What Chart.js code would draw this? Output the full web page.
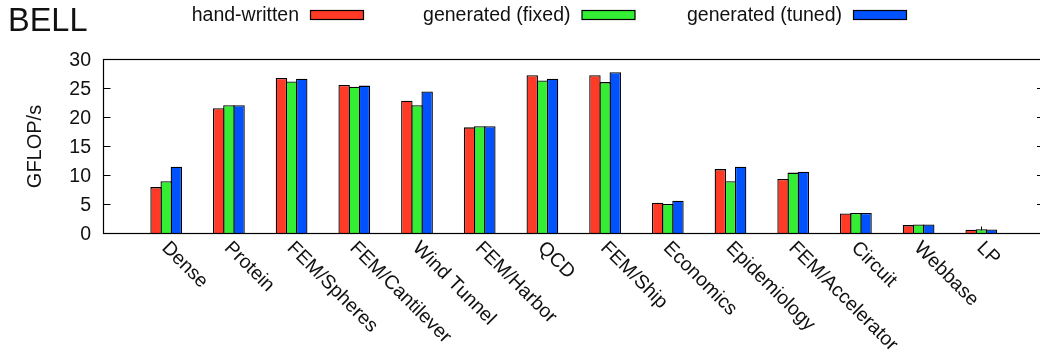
<!DOCTYPE html>
<html>
<head>
<meta charset="utf-8">
<title>BELL</title>
<script src="https://cdn.jsdelivr.net/npm/chart.js@4/dist/chart.umd.min.js"></script>
<style>
  html, body { margin: 0; padding: 0; background: #fff; overflow: hidden; }
  #wrap { position: relative; width: 1050px; height: 353px; }
</style>
</head>
<body>
<div id="wrap"><canvas id="chart" width="1050" height="353"></canvas></div>
<script>
// Matrix categories and measured throughput (GFLOP/s) for each kernel variant
const categories = ['Dense', 'Protein', 'FEM/Spheres', 'FEM/Cantilever', 'Wind Tunnel', 'FEM/Harbor',
  'QCD', 'FEM/Ship', 'Economics', 'Epidemiology', 'FEM/Accelerator', 'Circuit', 'Webbase', 'LP'];
const seriesNames = ['hand-written', 'generated (fixed)', 'generated (tuned)'];
const handWritten    = [8.0, 21.6, 26.8, 25.6, 22.9, 18.3, 27.3, 27.3, 5.3, 11.1, 9.4, 3.45, 1.45, 0.65];
const generatedFixed = [9.0, 22.1, 26.2, 25.3, 22.1, 18.5, 26.4, 26.1, 5.1, 9.0, 10.5, 3.55, 1.55, 0.75];
const generatedTuned = [11.5, 22.1, 26.7, 25.5, 24.5, 18.5, 26.7, 27.8, 5.65, 11.5, 10.65, 3.55, 1.55, 0.7];
const yTicks = [0, 5, 10, 15, 20, 25, 30];
const chartTitle = 'BELL';
const yTitle = 'GFLOP/s';

const colors = ['#ff3a26', '#33ee33', '#0052ff'];
const FONT = '"Liberation Sans", Arial, Helvetica, sans-serif';

// one empty slot on each side of the category axis
const labels = [''].concat(categories, ['']);
const pad = arr => [null].concat(arr, [null]);

const datasets = [handWritten, generatedFixed, generatedTuned].map((vals, i) => ({
  label: seriesNames[i],
  data: pad(vals),
  backgroundColor: colors[i],
  borderColor: '#000',
  borderWidth: 1.3,
  borderSkipped: 'start',
  inflateAmount: 0,
  categoryPercentage: 0.486,
  barPercentage: 1.125
}));

// axes frame, inward ticks and all text
const framePlugin = {
  id: 'frame',
  beforeDatasetsDraw(chart) {
    const { ctx, chartArea: a, scales: { x, y } } = chart;
    ctx.save();
    ctx.strokeStyle = '#000';
    ctx.lineWidth = 1;
    ctx.beginPath();
    categories.forEach((c, i) => {
      const px = Math.round(x.getPixelForValue(i + 1)) + 0.5;
      ctx.moveTo(px, a.bottom);
      ctx.lineTo(px, a.bottom - 7);
    });
    yTicks.forEach(v => {
      const py = y.getPixelForValue(v);
      ctx.moveTo(a.left, py); ctx.lineTo(a.left + 7, py);
      ctx.moveTo(a.right, py); ctx.lineTo(a.right - 7, py);
    });
    ctx.stroke();
    ctx.restore();
  },
  afterDatasetsDraw(chart) {
    const { ctx, chartArea: a, scales: { x, y } } = chart;
    ctx.save();
    // border box
    ctx.strokeStyle = '#000';
    ctx.lineWidth = 1.2;
    ctx.strokeRect(a.left, a.top, a.right - a.left, a.bottom - a.top);

    ctx.fillStyle = '#111';
    // y tick labels
    ctx.font = '19.5px ' + FONT;
    ctx.textAlign = 'right';
    ctx.textBaseline = 'middle';
    yTicks.forEach(v => ctx.fillText(String(v), a.left - 12.5, y.getPixelForValue(v) + 1));

    // y axis title
    ctx.save();
    ctx.translate(41, (a.top + a.bottom) / 2);
    ctx.rotate(-Math.PI / 2);
    ctx.textAlign = 'center';
    ctx.textBaseline = 'alphabetic';
    ctx.font = '20px ' + FONT;
    ctx.fillText(yTitle, 0, 0);
    ctx.restore();

    // rotated category labels
    categories.forEach((c, i) => {
      const px = x.getPixelForValue(i + 1);
      ctx.save();
      ctx.translate(px - 1.5, a.bottom + 11.5);
      ctx.rotate(Math.PI / 4);
      ctx.textAlign = 'left';
      ctx.textBaseline = 'middle';
      ctx.fillText(c, 0, 0);
      ctx.restore();
    });

    // legend: text followed by a swatch, fixed column pitch
    chart.data.datasets.forEach((ds, i) => {
      const sx = 310.5 + i * 271.5;
      ctx.textAlign = 'right';
      ctx.textBaseline = 'alphabetic';
      ctx.fillStyle = '#111';
      ctx.fillText(ds.label, sx - 11.5, 21);
      ctx.fillStyle = ds.backgroundColor;
      ctx.fillRect(sx, 10.5, 53, 9);
      ctx.strokeStyle = '#000';
      ctx.lineWidth = 1.2;
      ctx.strokeRect(sx, 10.5, 53, 9);
    });

    // title
    ctx.fillStyle = '#111';
    ctx.font = '32.5px ' + FONT;
    ctx.textAlign = 'left';
    ctx.textBaseline = 'alphabetic';
    ctx.fillText(chartTitle, 8, 31);
    ctx.restore();
  }
};

new Chart(document.getElementById('chart'), {
  type: 'bar',
  data: { labels, datasets },
  options: {
    responsive: false,
    animation: false,
    devicePixelRatio: 1,
    layout: { padding: { left: 103.5, top: 59.5, right: 6, bottom: 119.5 } },
    plugins: { legend: { display: false }, tooltip: { enabled: false }, title: { display: false } },
    scales: {
      x: { type: 'category', offset: false, display: false, grid: { offset: false } },
      y: { min: 0, max: 30, display: false, ticks: { stepSize: 5 } }
    }
  },
  plugins: [framePlugin]
});
</script>
</body>
</html>
